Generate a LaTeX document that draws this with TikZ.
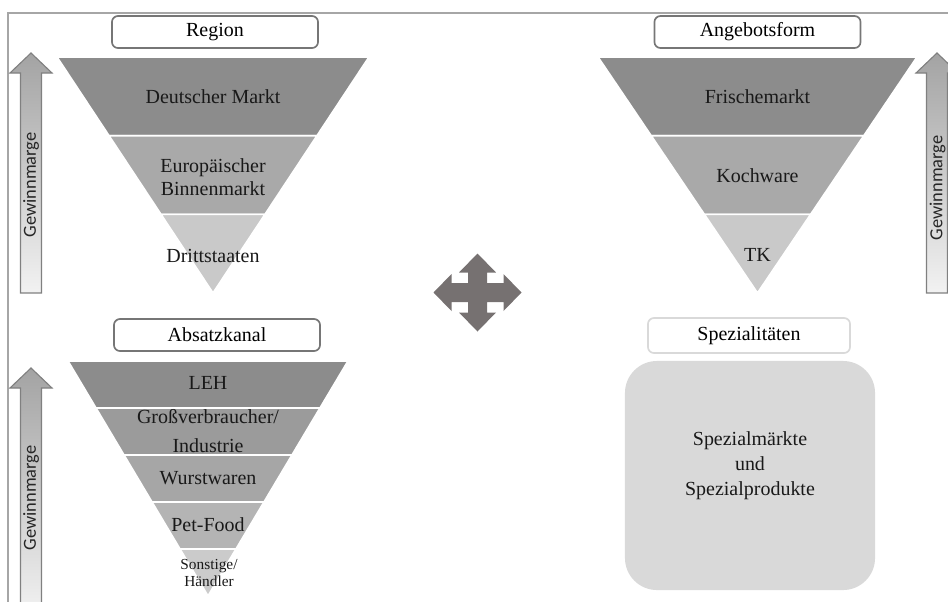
\documentclass[tikz,border=0pt]{standalone}
\usepackage{fontspec}
\setmainfont{Liberation Serif}
\newfontfamily\marginfont{Carlito}
\usetikzlibrary{calc}

\definecolor{frameline}{HTML}{A6A6A6}
\definecolor{titleline}{HTML}{767676}
\definecolor{titlelight}{HTML}{D9D9D9}
\definecolor{bandA}{HTML}{8C8C8C}
\definecolor{bandB}{HTML}{A9A9A9}
\definecolor{bandC}{HTML}{C9C9C9}
\definecolor{chanA}{HTML}{8C8C8C}
\definecolor{chanB}{HTML}{9B9B9B}
\definecolor{chanC}{HTML}{A6A6A6}
\definecolor{chanD}{HTML}{B4B4B4}
\definecolor{chanE}{HTML}{CBCBCB}
\definecolor{arrowline}{HTML}{808080}
\definecolor{arrowtop}{HTML}{A3A3A3}
\definecolor{arrowbot}{HTML}{F2F2F2}
\definecolor{crosscol}{HTML}{767171}
\definecolor{boxfill}{HTML}{D9D9D9}

\begin{document}
\begin{tikzpicture}[x=0.025cm, y=-0.025cm,
	title/.style={draw=titleline, line width=1.2pt, rounded corners=1.5mm,
		fill=white, minimum width=5.15cm, minimum height=0.8cm, inner sep=0pt,
		font=\fontsize{14.2}{17}\selectfont},
	band/.style={draw=white, line width=1.2pt},
	lbl/.style={align=center, inner sep=1pt, text=black!90,
		font=\fontsize{14.2}{16.4}\selectfont},
	margin/.style={rotate=90, inner sep=0pt, text=black!85,
		font=\marginfont\fontsize{13.1}{15}\selectfont}]

	% ---- canvas

	\useasboundingbox (0,0) rectangle (948,601);
	\clip (0,0) rectangle (948,601);

	\draw[frameline, line width=1.1pt] (948,13) -- (8,13) -- (8,605);

	% ---- coordinates

	\coordinate (RL) at (57,57);
	\coordinate (RR) at (369,57);
	\coordinate (RA) at (213,293);

	\coordinate (AL) at (598,57);
	\coordinate (AR) at (917,57);
	\coordinate (AA) at (757.5,293);

	\coordinate (KL) at (68,361);
	\coordinate (KR) at (348,361);
	\coordinate (KA) at (208,596);

	% ---- margin arrows

	\foreach \x/\t/\b in {31/53/293, 31/368/615, 937/53/293} {
		\shade[top color=arrowtop, bottom color=arrowbot, draw=arrowline, line width=0.8pt]
			(\x,\t) -- (\x+21,\t+20) -- (\x+10.5,\t+20) -- (\x+10.5,\b)
			-- (\x-10.5,\b) -- (\x-10.5,\t+20) -- (\x-21,\t+20) -- cycle;
	}

	\node[margin] (gm1) at (31,185) {Gewinnmarge};
	\node[margin] (gm2) at (31,498) {Gewinnmarge};
	\node[margin] (gm3) at (937.5,188) {Gewinnmarge};

	% ---- region funnel

	\foreach \a/\b/\col in {0/0.3333/bandA, 0.3333/0.6667/bandB, 0.6667/1/bandC} {
		\filldraw[band, fill=\col] ($(RL)!\a!(RA)$) -- ($(RR)!\a!(RA)$)
			-- ($(RR)!\b!(RA)$) -- ($(RL)!\b!(RA)$) -- cycle;
	}

	% ---- offer funnel

	\foreach \a/\b/\col in {0/0.3333/bandA, 0.3333/0.6667/bandB, 0.6667/1/bandC} {
		\filldraw[band, fill=\col] ($(AL)!\a!(AA)$) -- ($(AR)!\a!(AA)$)
			-- ($(AR)!\b!(AA)$) -- ($(AL)!\b!(AA)$) -- cycle;
	}

	% ---- channel funnel

	\foreach \a/\b/\col in {0/0.2/chanA, 0.2/0.4/chanB, 0.4/0.6/chanC, 0.6/0.8/chanD, 0.8/1/chanE} {
		\filldraw[band, fill=\col] ($(KL)!\a!(KA)$) -- ($(KR)!\a!(KA)$)
			-- ($(KR)!\b!(KA)$) -- ($(KL)!\b!(KA)$) -- cycle;
	}

	% ---- titles

	\node[title] (region) at (215,32) {Region};
	\node[title] (offer) at (757.5,32) {Angebotsform};
	\node[title] (channel) at (217,335) {Absatzkanal};
	\node[title, draw=titlelight, minimum width=5.05cm, minimum height=0.875cm]
		(special) at (749,335.5) {Spezialitäten};

	% ---- band labels

	\node[lbl] (r1) at (213,97) {Deutscher Markt};
	\node[lbl] (r2) at (213,177) {Europäischer\\Binnenmarkt};
	\node[lbl] (r3) at (213,256) {Drittstaaten};

	\node[lbl] (a1) at (757.5,97) {Frischemarkt};
	\node[lbl] (a2) at (757.5,176) {Kochware};
	\node[lbl] (a3) at (757.5,255) {TK};

	\node[lbl] (k1) at (208,383) {LEH};
	\node[lbl] (k2) at (208,431) {Großverbraucher/\\[1.3mm]Industrie};
	\node[lbl] (k3) at (208,478) {Wurstwaren};
	\node[lbl] (k4) at (208,525) {Pet-Food};
	\node[lbl, font=\fontsize{10.9}{11.8}\selectfont] (k5) at (209,573) {Sonstige/\\Händler};

	% ---- special products

	\node[fill=boxfill, rounded corners=0.8cm, minimum width=6.25cm, minimum height=5.725cm]
		(spez) at (750,475.5) {};
	\node[lbl, font=\fontsize{14.2}{17.8}\selectfont] (spez-txt) at ($(spez.center)+(0,-10)$)
		{Spezialmärkte\\und\\Spezialprodukte};

	% ---- center cross

	\begin{scope}[shift={(477.5,292.5)}]
		\fill[crosscol] (0,-39) -- (18.5,-20) -- (9.5,-20) -- (9.5,-9.5) -- (26,-9.5)
			-- (26,-18.5) -- (44,0) -- (26,18.5) -- (26,9.5) -- (9.5,9.5) -- (9.5,20)
			-- (18.5,20) -- (0,39) -- (-18.5,20) -- (-9.5,20) -- (-9.5,9.5) -- (-26,9.5)
			-- (-26,18.5) -- (-44,0) -- (-26,-18.5) -- (-26,-9.5) -- (-9.5,-9.5)
			-- (-9.5,-20) -- (-18.5,-20) -- cycle;
	\end{scope}

\end{tikzpicture}
\end{document}
